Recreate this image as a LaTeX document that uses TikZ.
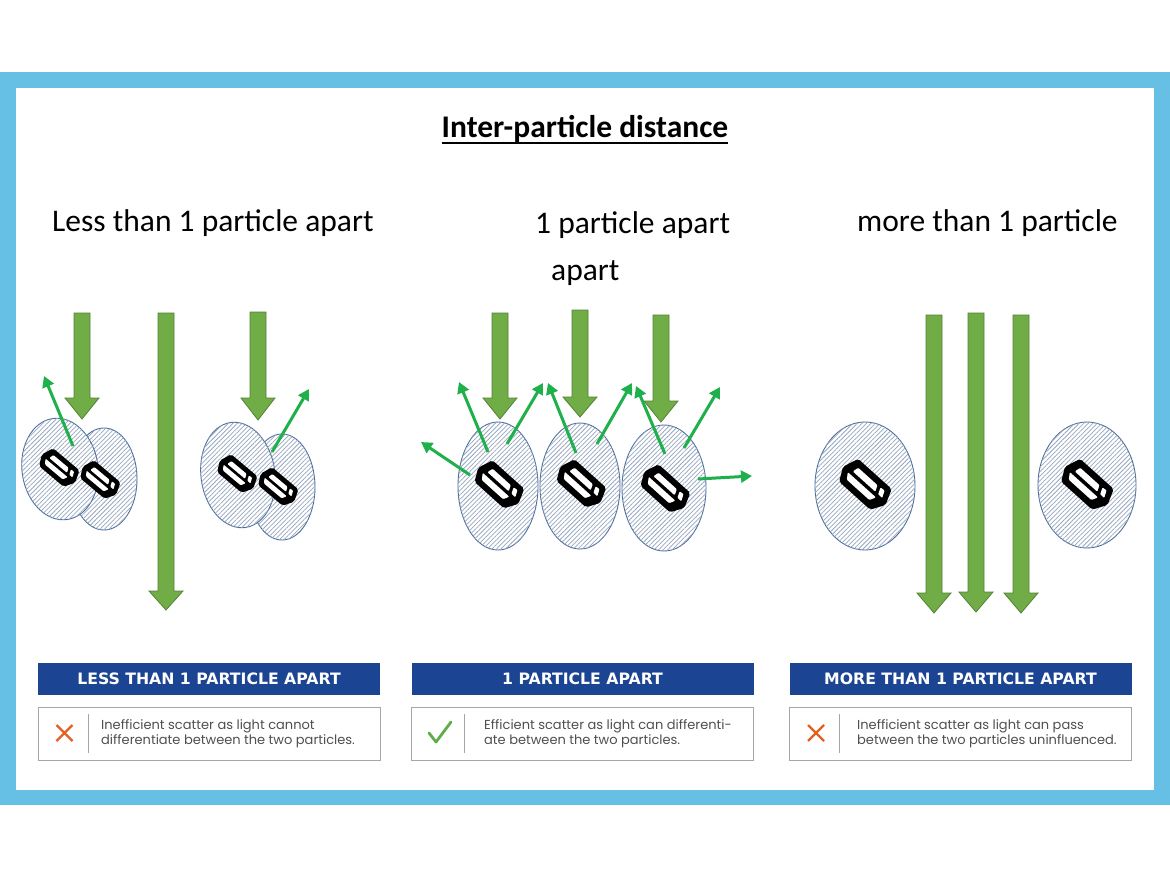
\documentclass[tikz,border=0pt]{standalone}
\usepackage{fontspec}
\setmainfont{Carlito}
\newfontfamily\mfont{Poppins}
\newfontfamily\hfont{DejaVu Sans}
\usetikzlibrary{arrows.meta,patterns.meta}
\definecolor{frameblue}{HTML}{66C0E6}
\definecolor{hdrblue}{HTML}{1B4592}
\definecolor{bigg}{HTML}{70AD47}
\definecolor{biggd}{HTML}{548235}
\definecolor{scatg}{HTML}{1FAF4B}
\definecolor{hatch}{HTML}{97A7C0}
\definecolor{ellb}{HTML}{4D6E9C}
\definecolor{xorange}{HTML}{E4601E}
\definecolor{chkgreen}{HTML}{5DAE4B}
\definecolor{bodygray}{HTML}{4F4F4F}
\definecolor{boxgray}{HTML}{A6A6A6}
\tikzset{
  cloud/.style={draw=ellb, line width=0.9pt, fill=white,
    postaction={pattern={Lines[angle=45,distance=3.2pt,line width=0.75pt]}, pattern color=hatch}},
  garrowst/.style={fill=bigg, draw=biggd, line width=0.8pt, line join=miter},
  scat/.style={draw=scatg, line width=3pt, -{Triangle[length=11pt,width=12pt]}},
  hdr/.style={fill=hdrblue, text=white, minimum width=342pt, minimum height=32pt, inner sep=0pt,
    font=\hfont\bfseries\fontsize{15.7}{18}\selectfont},
  txtbox/.style={fill=white, draw=boxgray, line width=0.9pt, minimum width=342pt, minimum height=53pt, inner sep=0pt},
  body/.style={anchor=west, align=left, inner sep=0pt, text=bodygray, font=\mfont\fontsize{13}{14.5}\selectfont},
  sub/.style={anchor=base west, inner sep=0pt, font=\fontsize{31.5}{36}\selectfont},
  sep/.style={draw=boxgray, line width=1pt},
  particle/.pic={
    \fill[black, rounded corners=2pt] (-0.52,0.02) -- (-0.39,0.27) -- (0.37,0.27) -- (0.52,0.02) -- (0.41,-0.27) -- (-0.41,-0.27) -- cycle;
    \fill[white, rounded corners=1pt] (-0.39,0.035) -- (-0.31,0.15) -- (0.24,0.15) -- (0.3,0.035) -- cycle;
    \fill[white, rounded corners=1pt] (-0.33,-0.035) -- (0.22,-0.035) -- (0.17,-0.15) -- (-0.3,-0.15) -- cycle;
    \fill[white, rounded corners=0.8pt] (0.29,-0.035) -- (0.39,-0.035) -- (0.33,-0.165) -- (0.24,-0.155) -- cycle;
  }
}
\newcommand\garrow[4]{%
  \draw[garrowst] ({#1-8},#2) -- ({#1+8},#2) -- ({#1+8},#3) -- ({#1+17},#3) -- (#1,#4) -- ({#1-17},#3) -- ({#1-8},#3) -- cycle;}
\begin{document}
\begin{tikzpicture}[x=1pt,y=-1pt]
\useasboundingbox (0,0) rectangle (1170,878);
\fill[white] (0,0) rectangle (1170,878);
\fill[frameblue] (0,72) rectangle (1170,805);
\fill[white] (16,88) rectangle (1154,790);

% title
\node[anchor=base, inner sep=0pt, font=\bfseries\fontsize{31.5}{36}\selectfont] (title) at (585,137) {Inter-particle distance};
\draw[line width=1.8pt] ([yshift=-6pt]title.base west) -- ([yshift=-6pt]title.base east);

% subtitles
\node[sub] (s1) at (52,231) {Less than 1 particle apart};
\node[sub] (s2) at (535,233) {1 particle apart};
\node[sub] (s2b) at (551,280) {apart};
\node[sub] (s3) at (857,231) {more than 1 particle};

% ---------- left panel ----------
\garrow{82}{313}{398}{419}
\garrow{166}{313}{591}{610}
\garrow{258}{312}{398}{420}
\path[cloud] (104,479) ellipse [x radius=33, y radius=51];
\path[cloud, rotate around={8:(60,469)}] (60,469) ellipse [x radius=38, y radius=51];
\path[cloud] (282,487) ellipse [x radius=33, y radius=53];
\path[cloud, rotate around={8:(238,475)}] (238,475) ellipse [x radius=37, y radius=53];
\pic[scale=42, rotate=-40] at (59,468) {particle};
\pic[scale=42, rotate=-40] at (100,480) {particle};
\pic[scale=42, rotate=-40] at (237,474) {particle};
\pic[scale=42, rotate=-40] at (278,487) {particle};
\draw[scat] (73,446) -- (44,376);
\draw[scat] (272,452) -- (309,389);

% ---------- middle panel ----------
\garrow{500}{313}{398}{419}
\garrow{580}{310}{397}{417}
\garrow{661}{315}{401}{422}
\path[cloud] (498,486) ellipse [x radius=40, y radius=64];
\path[cloud] (580,486) ellipse [x radius=40, y radius=63];
\path[cloud] (664,488) ellipse [x radius=42, y radius=63];
\pic[scale=52, rotate=-42] at (499,485) {particle};
\pic[scale=52, rotate=-42] at (581,484) {particle};
\pic[scale=52, rotate=-42] at (665,489) {particle};
\draw[scat] (470,475) -- (421,442);
\draw[scat] (488,452) -- (459,382);
\draw[scat] (507,444) -- (543,383);
\draw[scat] (576,453) -- (548,383);
\draw[scat] (597,444) -- (632,383);
\draw[scat] (665,454) -- (636,386);
\draw[scat] (684,448) -- (720,387);
\draw[scat] (698,479) -- (752,476);

% ---------- right panel ----------
\path[cloud] (865,486) ellipse [x radius=50, y radius=64];
\path[cloud] (1087,485) ellipse [x radius=49, y radius=63];
\pic[scale=55, rotate=-42] at (865,485) {particle};
\pic[scale=55, rotate=-42] at (1087,485) {particle};
\garrow{934}{315}{593}{613}
\garrow{976}{313}{592}{612}
\garrow{1021}{315}{593}{613}

% ---------- bottom boxes ----------
\node[hdr] (h1) at (209,679) {LESS THAN 1 PARTICLE APART};
\node[hdr] (h2) at (582.5,679) {1 PARTICLE APART};
\node[hdr] (h3) at (960.5,679) {MORE THAN 1 PARTICLE APART};
\node[txtbox] (b1) at (209,733.5) {};
\node[txtbox] (b2) at (582.5,733.5) {};
\node[txtbox] (b3) at (960.5,733.5) {};

\draw[sep] (88,714) -- (88,753);
\draw[sep] (464,714) -- (464,753);
\draw[sep] (839,714) -- (839,753);

\draw[xorange, line width=2.4pt] (56.5,725) -- (72.5,741) (56.5,741) -- (72.5,725);
\draw[xorange, line width=2.4pt] (808,725) -- (824,741) (808,741) -- (824,725);
\draw[chkgreen, line width=2.8pt, line cap=round, line join=round] (429,733) -- (436,742) -- (451,722);

\node[body] (t1) at (101,733.5) {Inefficient scatter as light cannot\\differentiate between the two particles.};
\node[body] (t2) at (484,733.5) {Efficient scatter as light can differenti-\\ate between the two particles.};
\node[body] (t3) at (857,733.5) {Inefficient scatter as light can pass\\between the two particles uninfluenced.};
\end{tikzpicture}
\end{document}
